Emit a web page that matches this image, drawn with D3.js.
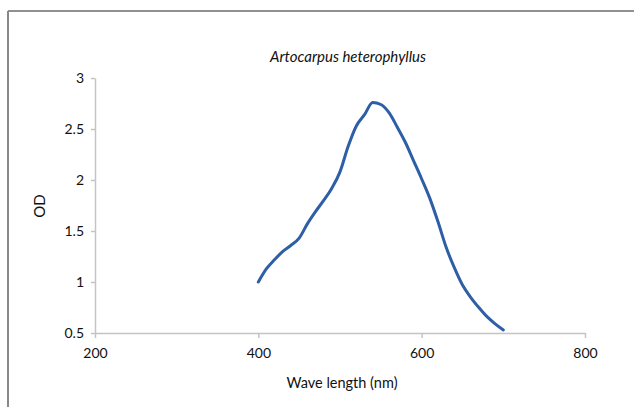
<!DOCTYPE html>
<html>
<head>
<meta charset="utf-8">
<script src="https://cdn.jsdelivr.net/npm/d3@7"></script>
<style>
  body { margin: 0; background: #fff; }
  svg { display: block; }
</style>
</head>
<body>
<div id="chart"></div>
<script>
const title = "Artocarpus heterophyllus";
const x_label = "Wave length (nm)";
const y_label = "OD";

const wavelength = [400, 410, 420, 430, 440, 450, 460, 470, 480, 490, 500,
                    510, 520, 530, 540, 550, 560, 570, 580, 590, 600,
                    610, 620, 630, 640, 650, 660, 670, 680, 690, 700];
const od = [1.00, 1.13, 1.22, 1.30, 1.36, 1.43, 1.57, 1.69, 1.80, 1.92, 2.08,
            2.33, 2.53, 2.64, 2.76, 2.74, 2.66, 2.52, 2.37, 2.19, 2.01,
            1.82, 1.59, 1.34, 1.14, 0.97, 0.85, 0.75, 0.66, 0.59, 0.53];

const x_ticks = [200, 400, 600, 800];
const y_ticks = [0.5, 1, 1.5, 2, 2.5, 3];

const width = 634, height = 407;
const font = "Lato, 'Open Sans', sans-serif";

let svg = d3.select("#chart")
            .append("svg")
            .attr("width", width)
            .attr("height", height);

// outer frame (only top and left edges show)
svg.append("line")
   .attr("x1", 8).attr("y1", 11).attr("x2", width).attr("y2", 11)
   .attr("stroke", "#222").attr("stroke-width", 1.2);
svg.append("line")
   .attr("x1", 8).attr("y1", 11).attr("x2", 8).attr("y2", height)
   .attr("stroke", "#888").attr("stroke-width", 2);

let x = d3.scaleLinear().domain([200, 800]).range([95, 585]);
let y = d3.scaleLinear().domain([0.5, 3]).range([333, 78]);

let x_axis = svg.append("g")
   .attr("transform", `translate(0,${y(0.5)})`)
   .call(d3.axisBottom(x).tickValues(x_ticks).tickSize(5).tickSizeOuter(0).tickPadding(10));

let y_axis = svg.append("g")
   .attr("transform", `translate(${x(200)},0)`)
   .call(d3.axisLeft(y).tickValues(y_ticks).tickSize(4).tickSizeOuter(0).tickPadding(7)
           .tickFormat(d3.format("")));

for (let ax of [x_axis, y_axis]) {
    ax.select(".domain").attr("stroke", "#c4c4c4").attr("stroke-width", 1.5);
    ax.selectAll(".tick line").attr("stroke", "#c4c4c4").attr("stroke-width", 1.5);
    ax.selectAll(".tick text")
      .attr("fill", "#111")
      .style("font-family", font)
      .style("font-size", "14px");
}

let line = d3.line()
    .x((d, i) => x(wavelength[i]))
    .y(d => y(d))
    .curve(d3.curveMonotoneX);

svg.append("path")
   .datum(od)
   .attr("d", line)
   .attr("fill", "none")
   .attr("stroke", "#2e5fa6")
   .attr("stroke-width", 3)
   .attr("stroke-linejoin", "round")
   .attr("stroke-linecap", "round");

svg.append("text")
   .attr("x", 348).attr("y", 62)
   .attr("text-anchor", "middle")
   .style("font-family", font)
   .style("font-style", "italic")
   .style("font-size", "15px")
   .attr("fill", "#111")
   .text(title);

svg.append("text")
   .attr("x", 342).attr("y", 388)
   .attr("text-anchor", "middle")
   .style("font-family", font)
   .style("font-size", "14.5px")
   .attr("fill", "#111")
   .text(x_label);

svg.append("text")
   .attr("transform", "translate(45,206) rotate(-90)")
   .attr("text-anchor", "middle")
   .style("font-family", font)
   .style("font-size", "15px")
   .attr("fill", "#111")
   .text(y_label);
</script>
</body>
</html>
